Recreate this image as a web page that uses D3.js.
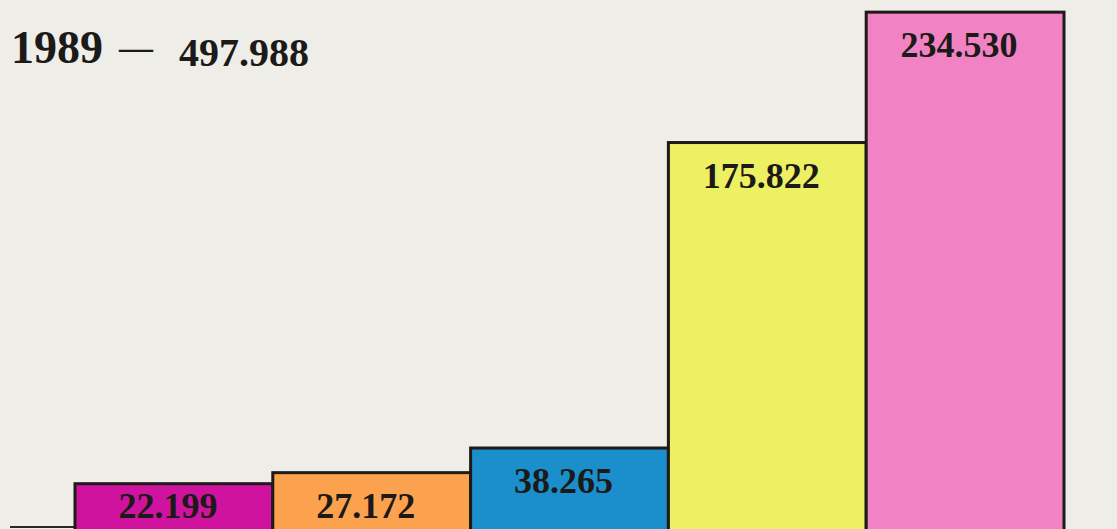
<!doctype html>
<html>
<head>
<meta charset="utf-8"/>
<title>1989 — 497.988</title>
<script src="https://d3js.org/d3.v7.min.js"></script>
<style>
  html, body { margin: 0; padding: 0; background: #efede8; }
  svg { display: block; }
  .valor { font-family: "Liberation Serif", serif; font-weight: bold; fill: #1c1a18; }
</style>
</head>
<body>
<div id="grafico"></div>
<script>
// dados
var categorias = ["a", "b", "c", "d", "e"];
var valores = [22.199, 27.172, 38.265, 175.822, 234.530];
var rotulos = ["22.199", "27.172", "38.265", "175.822", "234.530"];
var cores = ["#d0139f", "#fca24e", "#1b8fcb", "#ecf062", "#f183c4"];
var anoTitulo = "1989";
var totalTitulo = "497.988";

var largura = 1117, altura = 529;

var svg = d3.select("#grafico")
    .append("svg")
    .attr("width", largura)
    .attr("height", altura);

svg.append("rect")
    .attr("width", largura)
    .attr("height", altura)
    .attr("fill", "#efede8");

var x = d3.scaleBand()
    .domain(categorias)
    .range([75, 1064])
    .padding(0);

var y = d3.scaleLinear()
    .domain([0, 240])
    .range([533, 0]);

// linha de base a esquerda
svg.append("line")
    .attr("x1", 10).attr("x2", x(categorias[0]))
    .attr("y1", 527).attr("y2", 527)
    .attr("stroke", "#2a2622")
    .attr("stroke-width", 2);

svg.selectAll(".barra")
    .data(valores)
    .enter()
    .append("rect")
    .attr("class", "barra")
    .attr("x", function(d, i) { return x(categorias[i]); })
    .attr("y", function(d) { return y(d); })
    .attr("width", x.bandwidth())
    .attr("height", function(d) { return y(0) - y(d) + 10; })
    .attr("fill", function(d, i) { return cores[i]; })
    .attr("stroke", "#1d1a17")
    .attr("stroke-width", 3);

svg.selectAll(".valor")
    .data(valores)
    .enter()
    .append("text")
    .attr("class", "valor")
    .attr("x", function(d, i) { return x(categorias[i]) + x.bandwidth() / 2 - 6; })
    .attr("y", function(d) { return Math.min(y(d) + 45, 518); })
    .attr("text-anchor", "middle")
    .attr("font-size", 36)
    .text(function(d, i) { return rotulos[i]; });

// titulo
var titulo = svg.append("text")
    .attr("class", "valor")
    .attr("x", 11)
    .attr("y", 63);
titulo.append("tspan").attr("font-size", 46).text(anoTitulo);
titulo.append("tspan").attr("font-size", 34).attr("dx", 16).attr("dy", -4).text("—");
titulo.append("tspan").attr("font-size", 40).attr("dx", 26).attr("dy", 7).text(totalTitulo);
</script>
</body>
</html>
